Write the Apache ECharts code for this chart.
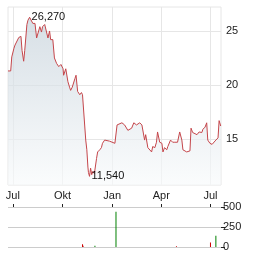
<!DOCTYPE html>
<html>
<head>
<meta charset="utf-8">
<script src="https://cdn.jsdelivr.net/npm/echarts@6/dist/echarts.min.js"></script>
<style>
  html, body { margin: 0; padding: 0; background: #fff; }
  #chart { width: 264px; height: 255px; }
</style>
</head>
<body>
<div id="chart"></div>
<script>
// price series
const priceDates = [
  '2023-06-22', '2023-06-27', '2023-06-29', '2023-07-03', '2023-07-05', '2023-07-08',
  '2023-07-12', '2023-07-16', '2023-07-18', '2023-07-21', '2023-07-23', '2023-07-27',
  '2023-07-29', '2023-08-01', '2023-08-03', '2023-08-07', '2023-08-11', '2023-08-14',
  '2023-08-16', '2023-08-20', '2023-08-23', '2023-08-25', '2023-08-29', '2023-08-31',
  '2023-09-04', '2023-09-07', '2023-09-09', '2023-09-13', '2023-09-16', '2023-09-20',
  '2023-09-24', '2023-09-28', '2023-10-02', '2023-10-03', '2023-10-07', '2023-10-11',
  '2023-10-14', '2023-10-16', '2023-10-19', '2023-10-24', '2023-10-26', '2023-10-29',
  '2023-11-02', '2023-11-05', '2023-11-07', '2023-11-13', '2023-11-15', '2023-11-17',
  '2023-11-18', '2023-11-20', '2023-11-22', '2023-11-24', '2023-11-26', '2023-11-29',
  '2023-12-03', '2023-12-05', '2023-12-09', '2023-12-12', '2023-12-14', '2023-12-18',
  '2023-12-27', '2024-01-06', '2024-01-10', '2024-01-13', '2024-01-19', '2024-01-24',
  '2024-01-30', '2024-02-02', '2024-02-06', '2024-02-10', '2024-02-15', '2024-02-21',
  '2024-02-25', '2024-03-01', '2024-03-03', '2024-03-07', '2024-03-10', '2024-03-14',
  '2024-03-16', '2024-03-20', '2024-03-23', '2024-03-25', '2024-03-29', '2024-04-02',
  '2024-04-04', '2024-04-07', '2024-04-11', '2024-04-13', '2024-04-16', '2024-04-18',
  '2024-04-22', '2024-04-26', '2024-04-29', '2024-05-01', '2024-05-05', '2024-05-09',
  '2024-05-11', '2024-05-18', '2024-05-24', '2024-05-26', '2024-05-29', '2024-06-06',
  '2024-06-10', '2024-06-15', '2024-06-17', '2024-06-21', '2024-06-24', '2024-06-26',
  '2024-06-30', '2024-07-04', '2024-07-07', '2024-07-11', '2024-07-15', '2024-07-17',
  '2024-07-20'
];
const priceValues = [
  21.3, 21.3, 22.6, 23.4, 23.7, 23.7,
  24.4, 24.5, 23.2, 22.2, 23.2, 25.6,
  26.0, 26.27, 26.1, 25.7, 25.7, 24.35,
  24.3, 25.4, 24.9, 25.4, 25.6, 25.5,
  24.35, 25.0, 24.2, 24.2, 22.5, 22.0,
  21.7, 21.9, 21.5, 20.9, 21.5, 20.3,
  19.8, 19.5, 19.8, 20.6, 20.9, 19.4,
  19.1, 19.3, 19.1, 14.9, 14.0, 12.4,
  11.9, 11.54, 12.3, 11.7, 12.0, 11.8,
  13.2, 13.8, 14.0, 14.2, 14.6, 14.9,
  14.8, 14.6, 16.3, 16.2, 16.5, 16.3,
  15.8, 15.65, 16.0, 16.5, 16.3, 16.5,
  16.3, 14.9, 15.4, 14.2, 14.1, 13.8,
  14.3, 14.2, 14.7, 15.65, 14.7, 14.6,
  13.8, 14.2, 14.0, 14.3, 14.3, 14.9,
  14.7, 14.7, 14.8, 14.7, 15.65, 14.9,
  14.0, 13.8, 13.9, 16.0, 15.6, 15.4,
  15.65, 15.6, 15.9, 16.1, 16.5, 14.9,
  14.6, 14.5, 14.6, 14.9, 15.1, 16.7,
  16.2
];

// volume bars
const volDownDates = ['2023-11-07', '2023-11-08', '2024-04-29', '2024-07-01'];
const volDownValues = [35, 15, 10, 55];
const volUpDates = ['2023-11-30', '2024-01-08', '2024-07-11'];
const volUpValues = [15, 440, 140];

// axis labels
const monthTicks = ['2023-07-01', '2023-10-01', '2024-01-01', '2024-04-01', '2024-07-01'];
const monthNames = ['Jan', 'Feb', 'Mär', 'Apr', 'Mai', 'Jun', 'Jul', 'Aug', 'Sep', 'Okt', 'Nov', 'Dez'];
const priceTicks = [15, 20, 25];
const volTicks = [0, 250, 500];

const ts = d => new Date(d + 'T00:00:00').getTime();
const tickTimes = monthTicks.map(ts);
const xMin = ts('2023-06-22');
const xMax = ts('2024-07-20') + 12 * 3600 * 1000;
const de = v => v.toFixed(3).replace('.', ',');

const chart = echarts.init(document.getElementById('chart'), null, { renderer: 'canvas' });

const option = {
  animation: false,
  textStyle: { fontFamily: 'Liberation Sans, Arial, sans-serif' },
  grid: [
    { left: 8, right: 43, top: 7, height: 178, show: true, borderColor: '#e6e6e6', borderWidth: 1 },
    { left: 8, right: 43, top: 207, height: 40 }
  ],
  xAxis: [
    {
      type: 'value', gridIndex: 0, min: xMin, max: xMax,
      axisLine: { show: false, onZero: false },
      axisTick: { show: false, customValues: tickTimes },
      splitLine: { show: true, lineStyle: { color: '#e6e6e6', width: 1 } },
      axisLabel: {
        customValues: tickTimes, margin: 5, color: '#222', fontSize: 11,
        formatter: v => monthNames[new Date(v).getMonth()]
      }
    },
    {
      type: 'value', gridIndex: 1, min: xMin, max: xMax, position: 'top',
      axisLine: { show: false, onZero: false },
      axisTick: { show: true, inside: false, length: 3, customValues: tickTimes, lineStyle: { color: '#222' } },
      splitLine: { show: false },
      axisLabel: { show: false, customValues: tickTimes }
    }
  ],
  yAxis: [
    {
      type: 'value', gridIndex: 0, position: 'right', min: 10.74, max: 27.22,
      axisLine: { show: false },
      axisTick: { show: false, customValues: priceTicks },
      splitLine: { show: true, lineStyle: { color: '#e6e6e6', width: 1 } },
      axisLabel: { customValues: priceTicks, margin: 5, color: '#222', fontSize: 11 }
    },
    {
      type: 'value', gridIndex: 1, position: 'right', min: 0, max: 500,
      axisLine: { show: false },
      axisTick: { show: true, length: 4, customValues: volTicks, lineStyle: { color: '#222' } },
      splitLine: { show: true, lineStyle: { color: '#cccccc', width: 1 } },
      axisLabel: { customValues: volTicks, margin: 2, color: '#222', fontSize: 11 }
    }
  ],
  series: [
    {
      type: 'line', xAxisIndex: 0, yAxisIndex: 0,
      data: priceDates.map((d, i) => [ts(d), priceValues[i]]),
      symbol: 'none',
      lineStyle: { color: '#c4454a', width: 1 },
      areaStyle: {
        color: new echarts.graphic.LinearGradient(0, 0, 0, 1, [
          { offset: 0, color: '#c5d1da' },
          { offset: 1, color: '#f8fafb' }
        ])
      },
      markPoint: {
        symbol: 'circle', symbolSize: 0,
        label: {
          show: true, position: 'right', distance: 2, color: '#111', fontSize: 11,
          formatter: p => de(p.value)
        },
        data: [{ type: 'max' }, { type: 'min' }]
      }
    },
    {
      type: 'bar', xAxisIndex: 1, yAxisIndex: 1, barWidth: 1, barGap: '-100%',
      data: volDownDates.map((d, i) => [ts(d), volDownValues[i]]),
      itemStyle: { color: '#cc0000' }
    },
    {
      type: 'bar', xAxisIndex: 1, yAxisIndex: 1, barWidth: 1, barGap: '-100%',
      data: volUpDates.map((d, i) => [ts(d), volUpValues[i]]),
      itemStyle: { color: '#008000' }
    }
  ]
};

chart.setOption(option);
</script>
</body>
</html>
